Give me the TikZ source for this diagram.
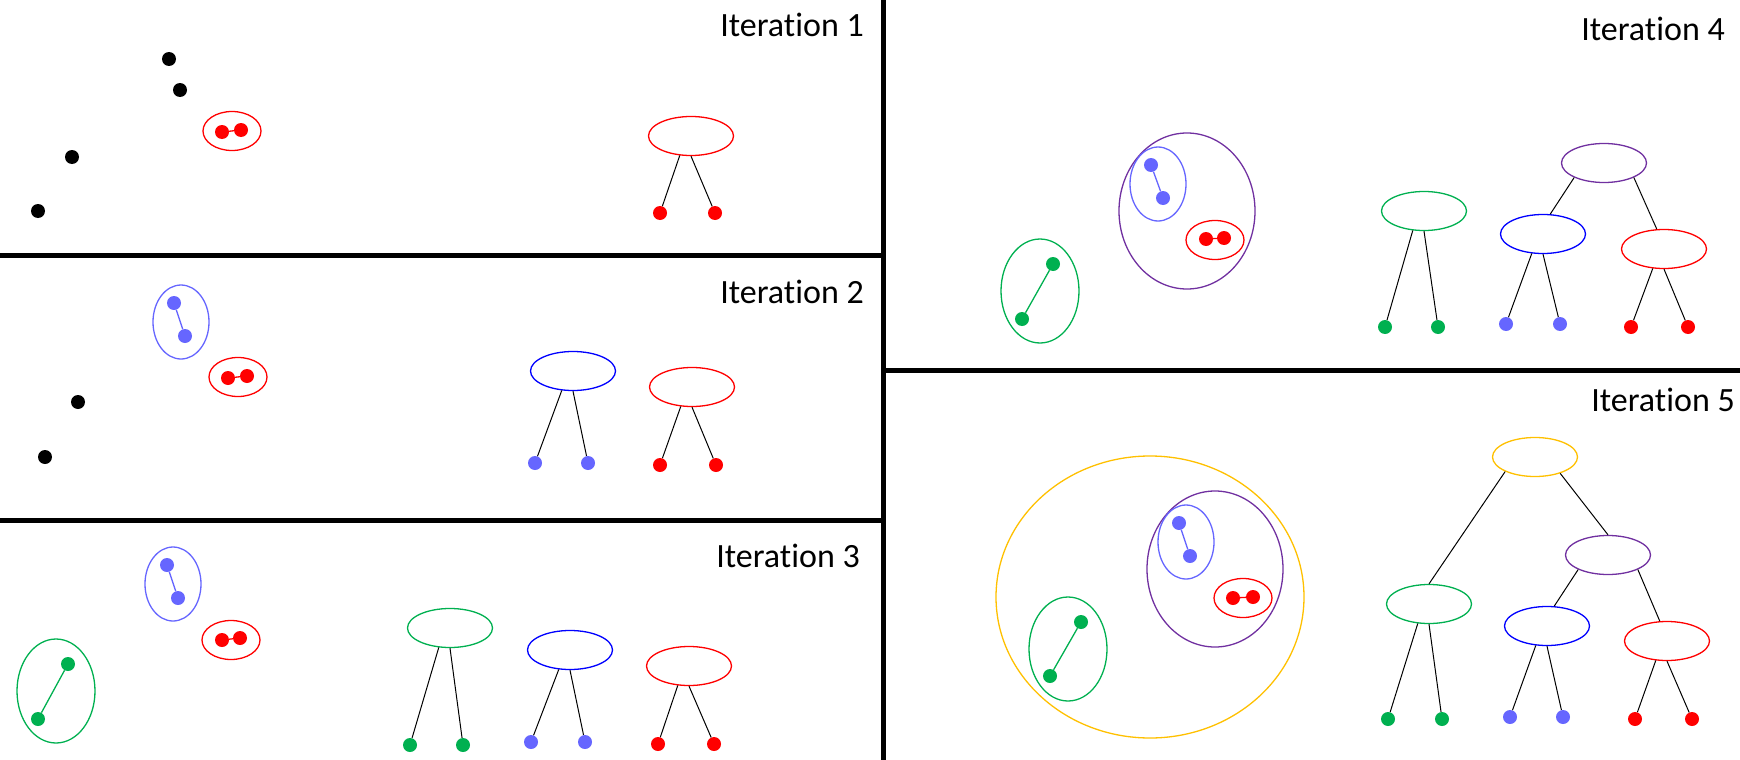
\documentclass[tikz,border=0pt]{standalone}
\usepackage{fontspec}
\setmainfont{Carlito}[Ligatures=NoCommon]
\usepackage{tikz}
\usetikzlibrary{shapes.geometric}

\definecolor{ptred}{HTML}{FF0000}
\definecolor{ptlblue}{HTML}{6666FF}
\definecolor{ptblue}{HTML}{0000FF}
\definecolor{ptgreen}{HTML}{00B050}
\definecolor{ptpurple}{HTML}{7030A0}
\definecolor{ptgold}{HTML}{FFC000}

\begin{document}
\begin{tikzpicture}[
        x=1pt, y=-1pt,
        every node/.style={inner sep=0pt},
        sample/.style={circle, fill, minimum size=14pt},
        cluster/.style={ellipse, draw, line width=1.3pt},
        redset/.style={cluster, draw=ptred, minimum width=58pt, minimum height=39pt},
        blueset/.style={cluster, draw=ptlblue, minimum width=56pt, minimum height=74pt},
        greenset/.style={cluster, draw=ptgreen, minimum width=78pt, minimum height=104pt},
        purpleset/.style={cluster, draw=ptpurple, minimum width=136pt, minimum height=156pt},
        goldset/.style={cluster, draw=ptgold, minimum width=308pt, minimum height=282pt},
        merge/.style={ellipse, draw, line width=1.3pt, minimum width=85pt, minimum height=39pt},
        link/.style={line width=1.3pt},
        branch/.style={line width=1pt},
        divider/.style={line width=5pt},
        title/.style={anchor=base east, font=\fontsize{34}{40}\selectfont}
    ]
    \useasboundingbox (0,0) rectangle (1740,760);

    % panels
    \draw[divider] (883,0) -- (883,760);
    \draw[divider] (0,255) -- (883,255);
    \draw[divider] (0,520) -- (883,520);
    \draw[divider] (883,370) -- (1740,370);

    % Iteration 1
    \node[title] (Title1) at (864,37) {Iteration 1};
    \node[sample, black] (Pt1a) at (169,59) {};
    \node[sample, black] (Pt1b) at (180,90) {};
    \node[sample, black] (Pt1c) at (72,157) {};
    \node[sample, black] (Pt1d) at (38,211) {};
    \node[redset] (RedSet1) at (232,131) {};
    \node[sample, ptred] (Red1a) at (222,132) {};
    \node[sample, ptred] (Red1b) at (241,130) {};
    \draw[link, ptred] (Red1a) -- (Red1b);

    \node[merge, draw=ptred] (RedTop1) at (691,136) {};
    \node[sample, ptred] (RedLeaf1a) at (660,213) {};
    \node[sample, ptred] (RedLeaf1b) at (715,213) {};
    \draw[branch] (RedTop1.240) -- (RedLeaf1a);
    \draw[branch] (RedTop1.south) -- (RedLeaf1b);

    % Iteration 2
    \node[title] (Title2) at (864,303) {Iteration 2};
    \node[sample, black] (Pt2c) at (78,402) {};
    \node[sample, black] (Pt2d) at (45,457) {};
    \node[blueset] (BlueSet2) at (181,322) {};
    \node[sample, ptlblue] (Blue2a) at (174,303) {};
    \node[sample, ptlblue] (Blue2b) at (185,336) {};
    \draw[link, ptlblue] (Blue2a) -- (Blue2b);
    \node[redset] (RedSet2) at (238,377) {};
    \node[sample, ptred] (Red2a) at (228,378) {};
    \node[sample, ptred] (Red2b) at (247,376) {};
    \draw[link, ptred] (Red2a) -- (Red2b);

    \node[merge, draw=ptblue] (BlueTop2) at (573,371) {};
    \node[sample, ptlblue] (BlueLeaf2a) at (535,463) {};
    \node[sample, ptlblue] (BlueLeaf2b) at (588,463) {};
    \draw[branch] (BlueTop2.240) -- (BlueLeaf2a);
    \draw[branch] (BlueTop2.south) -- (BlueLeaf2b);
    \node[merge, draw=ptred] (RedTop2) at (692,387) {};
    \node[sample, ptred] (RedLeaf2a) at (660,465) {};
    \node[sample, ptred] (RedLeaf2b) at (716,465) {};
    \draw[branch] (RedTop2.240) -- (RedLeaf2a);
    \draw[branch] (RedTop2.south) -- (RedLeaf2b);

    % Iteration 3
    \node[title] (Title3) at (860,567) {Iteration 3};
    \node[blueset] (BlueSet3) at (173,584) {};
    \node[sample, ptlblue] (Blue3a) at (167,565) {};
    \node[sample, ptlblue] (Blue3b) at (178,598) {};
    \draw[link, ptlblue] (Blue3a) -- (Blue3b);
    \node[redset] (RedSet3) at (231,640) {};
    \node[sample, ptred] (Red3a) at (222,640) {};
    \node[sample, ptred] (Red3b) at (240,638) {};
    \draw[link, ptred] (Red3a) -- (Red3b);
    \node[greenset] (GreenSet3) at (56,691) {};
    \node[sample, ptgreen] (Green3a) at (68,664) {};
    \node[sample, ptgreen] (Green3b) at (38,719) {};
    \draw[link, ptgreen] (Green3a) -- (Green3b);

    \node[merge, draw=ptgreen] (GreenTop3) at (450,628) {};
    \node[sample, ptgreen] (GreenLeaf3a) at (410,745) {};
    \node[sample, ptgreen] (GreenLeaf3b) at (463,745) {};
    \draw[branch] (GreenTop3.240) -- (GreenLeaf3a);
    \draw[branch] (GreenTop3.south) -- (GreenLeaf3b);
    \node[merge, draw=ptblue] (BlueTop3) at (570,650) {};
    \node[sample, ptlblue] (BlueLeaf3a) at (531,742) {};
    \node[sample, ptlblue] (BlueLeaf3b) at (585,742) {};
    \draw[branch] (BlueTop3.240) -- (BlueLeaf3a);
    \draw[branch] (BlueTop3.south) -- (BlueLeaf3b);
    \node[merge, draw=ptred] (RedTop3) at (689,666) {};
    \node[sample, ptred] (RedLeaf3a) at (658,744) {};
    \node[sample, ptred] (RedLeaf3b) at (714,744) {};
    \draw[branch] (RedTop3.240) -- (RedLeaf3a);
    \draw[branch] (RedTop3.south) -- (RedLeaf3b);

    % Iteration 4
    \node[title] (Title4) at (1725,41) {Iteration 4};
    \node[greenset] (GreenSet4) at (1040,291) {};
    \node[sample, ptgreen] (Green4a) at (1053,264) {};
    \node[sample, ptgreen] (Green4b) at (1022,319) {};
    \draw[link, ptgreen] (Green4a) -- (Green4b);
    \node[purpleset] (PurpleSet4) at (1187,211) {};
    \node[blueset] (BlueSet4) at (1158,184) {};
    \node[sample, ptlblue] (Blue4a) at (1151,165) {};
    \node[sample, ptlblue] (Blue4b) at (1163,198) {};
    \draw[link, ptlblue] (Blue4a) -- (Blue4b);
    \node[redset] (RedSet4) at (1215,240) {};
    \node[sample, ptred] (Red4a) at (1206,239) {};
    \node[sample, ptred] (Red4b) at (1224,238) {};
    \draw[link, ptred] (Red4a) -- (Red4b);

    \node[merge, draw=ptgreen] (GreenTop4) at (1424,211) {};
    \node[sample, ptgreen] (GreenLeaf4a) at (1385,327) {};
    \node[sample, ptgreen] (GreenLeaf4b) at (1438,327) {};
    \draw[branch] (GreenTop4.240) -- (GreenLeaf4a);
    \draw[branch] (GreenTop4.south) -- (GreenLeaf4b);
    \node[merge, draw=ptpurple] (PurpleTop4) at (1604,163) {};
    \node[merge, draw=ptblue] (BlueTop4) at (1543,234) {};
    \node[merge, draw=ptred] (RedTop4) at (1664,249) {};
    \draw[branch] (PurpleTop4.206) -- (BlueTop4.70);
    \draw[branch] (PurpleTop4.334) -- (RedTop4.110);
    \node[sample, ptlblue] (BlueLeaf4a) at (1506,324) {};
    \node[sample, ptlblue] (BlueLeaf4b) at (1560,324) {};
    \draw[branch] (BlueTop4.240) -- (BlueLeaf4a);
    \draw[branch] (BlueTop4.south) -- (BlueLeaf4b);
    \node[sample, ptred] (RedLeaf4a) at (1631,327) {};
    \node[sample, ptred] (RedLeaf4b) at (1688,327) {};
    \draw[branch] (RedTop4.240) -- (RedLeaf4a);
    \draw[branch] (RedTop4.south) -- (RedLeaf4b);

    % Iteration 5
    \node[title] (Title5) at (1735,411) {Iteration 5};
    \node[goldset] (GoldSet5) at (1150,597) {};
    \node[purpleset] (PurpleSet5) at (1215,569) {};
    \node[blueset] (BlueSet5) at (1186,542) {};
    \node[sample, ptlblue] (Blue5a) at (1179,523) {};
    \node[sample, ptlblue] (Blue5b) at (1190,556) {};
    \draw[link, ptlblue] (Blue5a) -- (Blue5b);
    \node[redset] (RedSet5) at (1243,598) {};
    \node[sample, ptred] (Red5a) at (1233,598) {};
    \node[sample, ptred] (Red5b) at (1253,597) {};
    \draw[link, ptred] (Red5a) -- (Red5b);
    \node[greenset] (GreenSet5) at (1068,649) {};
    \node[sample, ptgreen] (Green5a) at (1081,622) {};
    \node[sample, ptgreen] (Green5b) at (1050,676) {};
    \draw[link, ptgreen] (Green5a) -- (Green5b);

    \node[merge, draw=ptgold] (GoldTop5) at (1535,457) {};
    \node[merge, draw=ptpurple] (PurpleTop5) at (1608,555) {};
    \node[merge, draw=ptgreen] (GreenTop5) at (1429,604) {};
    \node[merge, draw=ptblue] (BlueTop5) at (1547,626) {};
    \node[merge, draw=ptred] (RedTop5) at (1667,641) {};
    \draw[branch] (GoldTop5.206) -- (GreenTop5.north);
    \draw[branch] (GoldTop5.327) -- (PurpleTop5.north);
    \draw[branch] (PurpleTop5.206) -- (BlueTop5.70);
    \draw[branch] (PurpleTop5.334) -- (RedTop5.110);
    \node[sample, ptgreen] (GreenLeaf5a) at (1388,719) {};
    \node[sample, ptgreen] (GreenLeaf5b) at (1442,719) {};
    \draw[branch] (GreenTop5.240) -- (GreenLeaf5a);
    \draw[branch] (GreenTop5.south) -- (GreenLeaf5b);
    \node[sample, ptlblue] (BlueLeaf5a) at (1510,717) {};
    \node[sample, ptlblue] (BlueLeaf5b) at (1563,717) {};
    \draw[branch] (BlueTop5.240) -- (BlueLeaf5a);
    \draw[branch] (BlueTop5.south) -- (BlueLeaf5b);
    \node[sample, ptred] (RedLeaf5a) at (1635,719) {};
    \node[sample, ptred] (RedLeaf5b) at (1692,719) {};
    \draw[branch] (RedTop5.240) -- (RedLeaf5a);
    \draw[branch] (RedTop5.south) -- (RedLeaf5b);
\end{tikzpicture}
\end{document}
